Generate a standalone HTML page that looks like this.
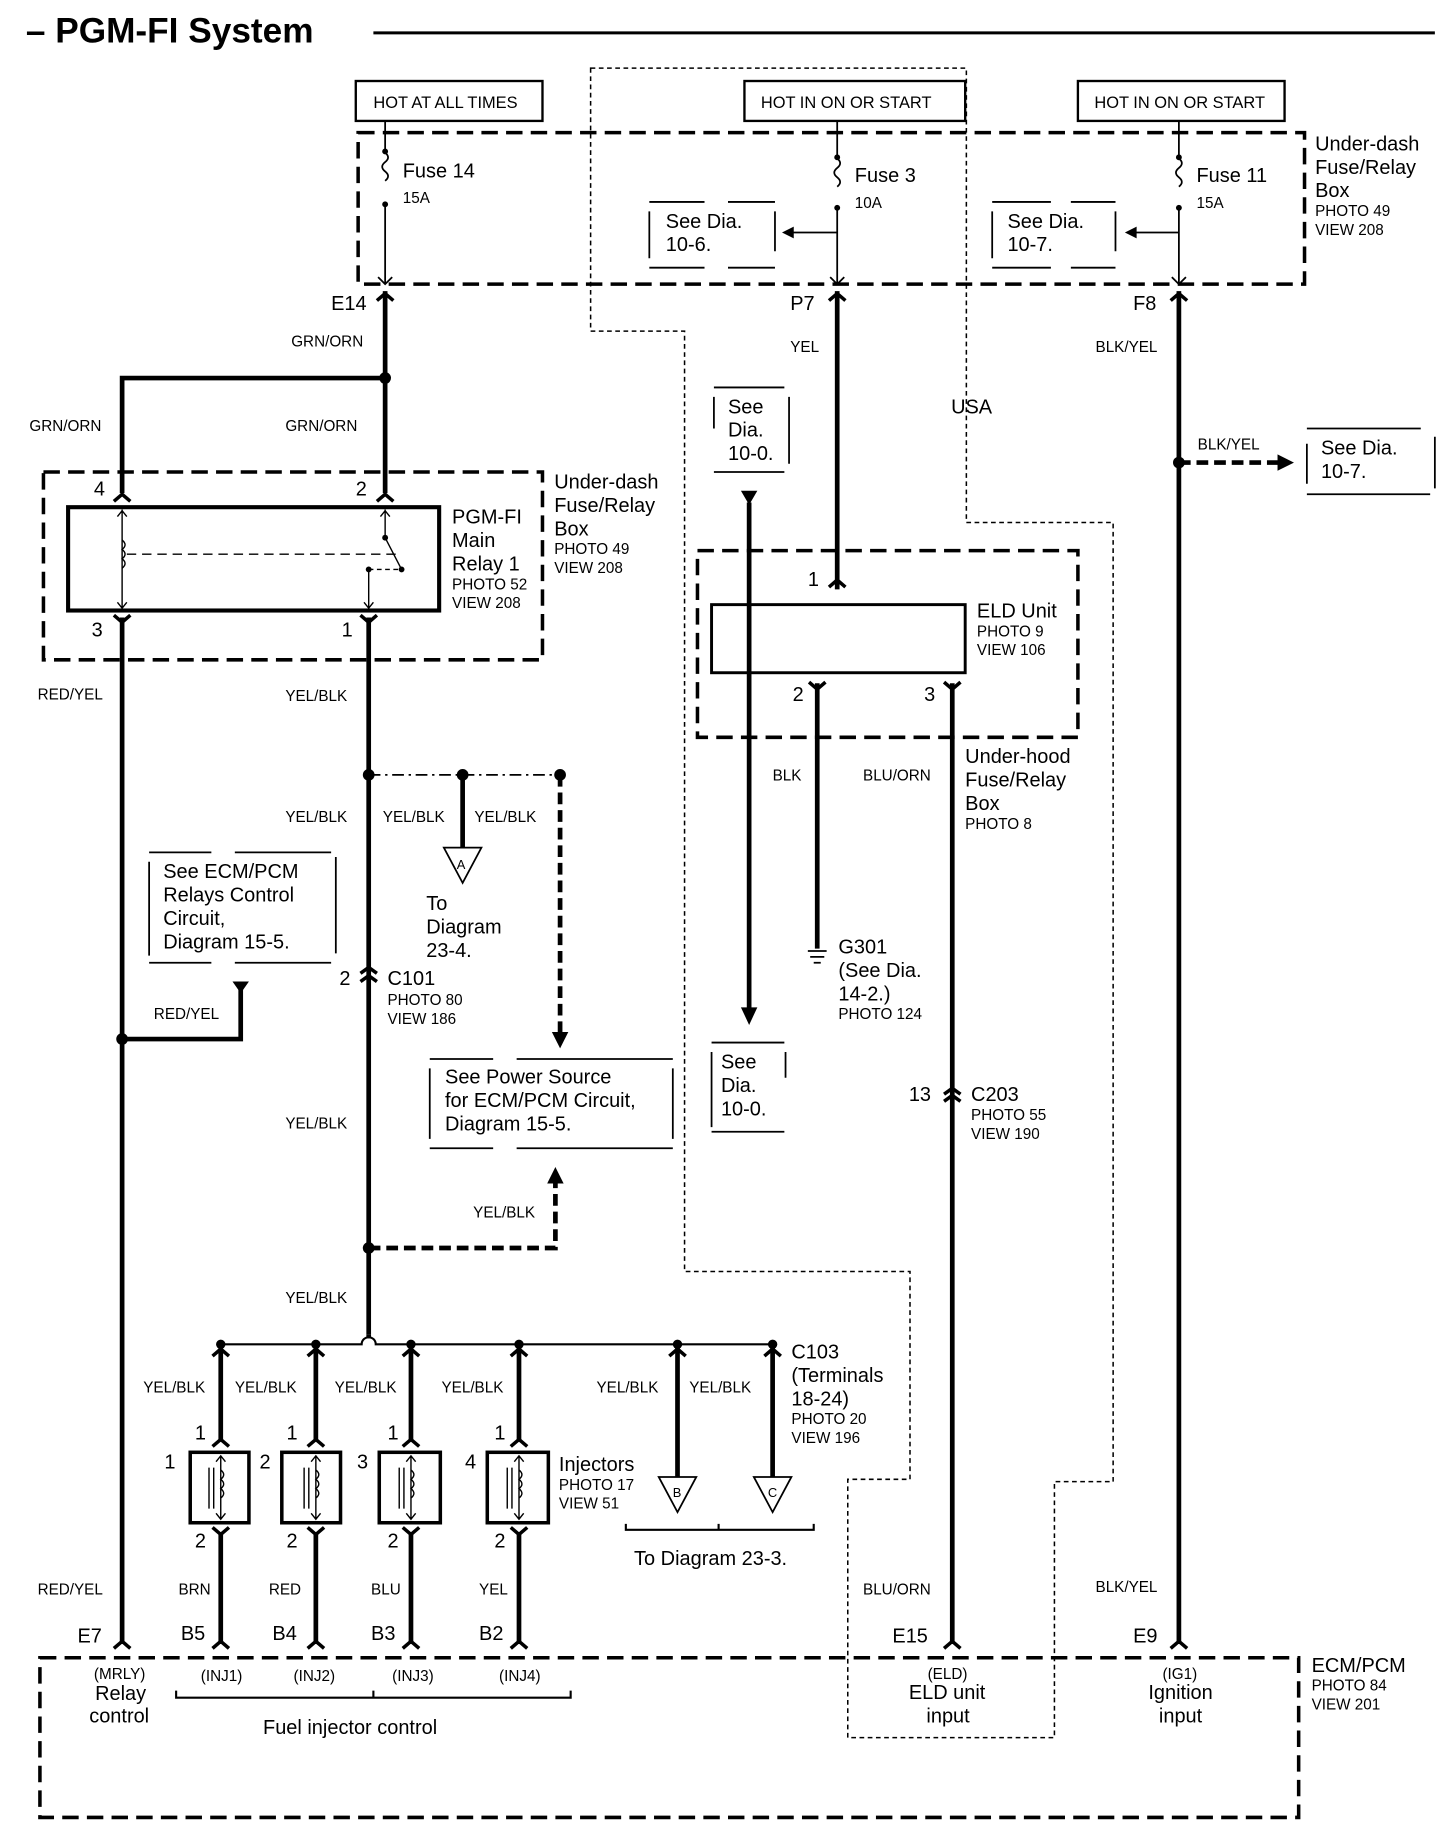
<!DOCTYPE html>
<html><head><meta charset="utf-8"><style>
html,body{margin:0;padding:0;background:#fff}
svg{display:block}
text{font-family:"Liberation Sans",Arial,sans-serif;fill:#000}
.l{font-size:17px}.s{font-size:13px}.m{font-size:14px}
</style></head><body>
<svg width="1456" height="1828" viewBox="0 0 1240 1557" preserveAspectRatio="none" xmlns="http://www.w3.org/2000/svg">
<g fill="none" stroke="#000">
<!-- title -->
<line x1="318" y1="28" x2="1222" y2="28" stroke-width="2.5"/>
<!-- hot boxes -->
<rect x="303" y="69" width="159" height="34" stroke-width="2"/>
<rect x="634" y="69" width="188" height="34" stroke-width="2"/>
<rect x="918" y="69" width="176" height="34" stroke-width="2"/>
<!-- USA dotted -->
<path d="M503 58 H823 V445 H948 V1262 H898 V1480 H722 V1260 H775 V1083 H583 V282 H503 Z" stroke-width="1.3" stroke-dasharray="4 3"/>
<!-- big dashed boxes -->
<rect x="305" y="113" width="806" height="129" stroke-width="3" stroke-dasharray="14 7"/>
<rect x="37" y="402" width="425" height="160" stroke-width="3" stroke-dasharray="14 7"/>
<rect x="594" y="469" width="324" height="159" stroke-width="3" stroke-dasharray="14 7"/>
<rect x="34" y="1412" width="1072" height="136" stroke-width="3" stroke-dasharray="14 7"/>
<!-- see dia boxes (dashed brackets) -->
<g stroke-width="1.5">
<path d="M553 172 H600 M620 172 H660 M553 228 H600 M620 228 H660 M553 180 V220 M660 180 V214"/>
<path d="M845 172 H895 M912 172 H950 M845 228 H895 M912 228 H950 M845 180 V220 M950 180 V214"/>
<path d="M608 330 H668 M608 402 H668 M608 338 V365 M672 338 V395"/>
<path d="M606 888 H668 M606 964 H668 M606 896 V960 M669 896 V918"/>
<path d="M1113 365 H1210 M1113 421 H1218 M1113 378 V412 M1222 372 V416"/>
<path d="M127 726 H180 M200 726 H282 M127 820 H180 M200 820 H282 M127 734 V814 M286 730 V812"/>
<path d="M366 902 H420 M440 902 H573 M366 978 H420 M440 978 H573 M366 910 V970 M573 910 V970"/>
</g>
<!-- fuses -->
<g stroke-width="1.5">
<path d="M328 103 V130 M328 175 V242"/>
<path d="M328 130 q5 4 0 8 q-5 4 0 8 q5 4 0 8"/>
<path d="M713 103 V135 M713 178 V242 M713 198 H672"/>
<path d="M713 135 q5 4 0 8 q-5 4 0 8 q5 4 0 8"/>
<path d="M1004 103 V135 M1004 178 V242 M1004 198 H964"/>
<path d="M1004 135 q5 4 0 8 q-5 4 0 8 q5 4 0 8"/>
</g>
<g fill="#000" stroke="none">
<circle cx="328" cy="129" r="2.5"/><circle cx="328" cy="174" r="2.5"/>
<circle cx="713" cy="134" r="2.5"/><circle cx="713" cy="177" r="2.5"/>
<circle cx="1004" cy="134" r="2.5"/><circle cx="1004" cy="177" r="2.5"/>
<path d="M666 198 l10 -5 v10z"/><path d="M958 198 l10 -5 v10z"/>
</g>
<!-- connector carets at fuse box bottom -->
<g stroke-width="1.5">
<path d="M322 236 l6 6 l6 -6 M707 236 l6 6 l6 -6 M998 236 l6 6 l6 -6"/>
</g>
<!-- thick wires -->
<g stroke-width="4">
<path d="M328 248 V420 M328 322 H104 V420"/>
<path d="M104 526 V1400"/>
<path d="M314 526 V1137"/>
<path d="M713 248 V502"/>
<path d="M1004 248 V1400"/>
<path d="M811 582 V1400"/>
<path d="M696 582 V808"/>
<path d="M638 428 V860"/>
<path d="M104 885 H205 V842"/>
<path d="M394 660 V722"/>
<path d="M188 1145 V1228 M269 1145 V1228 M350 1145 V1228 M442 1145 V1228"/>
<path d="M188 1306 V1400 M269 1306 V1400 M350 1306 V1400 M442 1306 V1400"/>
<path d="M577 1145 V1258 M658 1145 V1258"/>
</g>
<!-- Y connectors on thick wires -->
<g stroke-width="3">
<path d="M321 256 l7 -6 l7 6 M706 256 l7 -6 l7 6 M997 256 l7 -6 l7 6"/>
<path d="M97 427 l7 -6 l7 6 M321 427 l7 -6 l7 6"/>
<path d="M97 524 l7 6 l7 -6 M307 524 l7 6 l7 -6"/>
<path d="M706 500 l7 -6 l7 6"/>
<path d="M689 581 l7 6 l7 -6 M804 581 l7 6 l7 -6"/>
<path d="M307 829 l7 -5 l7 5 M307 836 l7 -5 l7 5"/>
<path d="M804 932 l7 -5 l7 5 M804 938 l7 -5 l7 5"/>
<path d="M181 1232 l7 -6 l7 6 M262 1232 l7 -6 l7 6 M343 1232 l7 -6 l7 6 M435 1232 l7 -6 l7 6"/>
<path d="M181 1301 l7 6 l7 -6 M262 1301 l7 6 l7 -6 M343 1301 l7 6 l7 -6 M435 1301 l7 6 l7 -6"/>
<path d="M181 1155 l7 -6 l7 6 M262 1155 l7 -6 l7 6 M343 1155 l7 -6 l7 6 M435 1155 l7 -6 l7 6 M570 1155 l7 -6 l7 6 M651 1155 l7 -6 l7 6"/>
<path d="M97 1404 l7 -6 l7 6 M181 1404 l7 -6 l7 6 M262 1404 l7 -6 l7 6 M343 1404 l7 -6 l7 6 M435 1404 l7 -6 l7 6 M804 1404 l7 -6 l7 6 M997 1404 l7 -6 l7 6"/>
</g>
<!-- relay internals -->
<rect x="58" y="432" width="316" height="88" stroke-width="3.5"/>
<g stroke-width="1.2">
<path d="M104 434 V518 M100 440 l4 -5 l4 5 M100 513 l4 5 l4 -5"/>
<path d="M104 460 q5 4 0 8 q5 4 0 8 q5 4 0 8"/>
<path d="M108 472 H340" stroke-dasharray="8 5"/>
<path d="M328 434 V458 M324 440 l4 -5 l4 5 M328 458 L342 485 M314 485 V518 M310 513 l4 5 l4 -5"/>
<path d="M314 485 H340" stroke-dasharray="4 3"/>
</g>
<g fill="#000" stroke="none"><circle cx="328" cy="458" r="2.5"/><circle cx="342" cy="485" r="2.5"/><circle cx="314" cy="485" r="2.5"/></g>
<!-- ELD unit -->
<rect x="606" y="515" width="216" height="58" stroke-width="2.5"/>
<!-- ground -->
<g stroke-width="1.5"><path d="M688 810 H704 M690 815 H702 M693 820 H699"/></g>
<!-- dash-dot bus at y660 -->
<path d="M314 660 H477" stroke-width="1.5" stroke-dasharray="10 4 2 4"/>
<path d="M477 660 V880" stroke-width="4" stroke-dasharray="10 5"/>
<path d="M314 1063 H473 V1005" stroke-width="4" stroke-dasharray="10 5"/>
<path d="M1004 394 H1090" stroke-width="4" stroke-dasharray="10 5"/>
<!-- triangles -->
<g stroke-width="1.5">
<path d="M378 722 H410 L394 752 Z"/>
<path d="M561 1258 H593 L577 1288 Z"/>
<path d="M642 1258 H674 L658 1288 Z"/>
</g>
<!-- injector bus -->
<path d="M188 1145 H308 a6 6 0 0 1 12 0 H658" stroke-width="1.8"/>
<path d="M314 1137 V1140" stroke-width="4"/>
<!-- injectors -->
<g stroke-width="3">
<rect x="162" y="1237" width="50" height="60"/>
<rect x="240" y="1237" width="50" height="60"/>
<rect x="323" y="1237" width="52" height="60"/>
<rect x="415" y="1237" width="52" height="60"/>
</g>
<g stroke-width="1.2">
<path d="M188 1240 V1294 M184 1245 l4 -5 l4 5 M184 1289 l4 5 l4 -5 M188 1252 q5 4 0 8 q5 4 0 8 q5 4 0 8 M178 1250 V1285 M182 1250 V1285"/>
<path d="M269 1240 V1294 M265 1245 l4 -5 l4 5 M265 1289 l4 5 l4 -5 M269 1252 q5 4 0 8 q5 4 0 8 q5 4 0 8 M259 1250 V1285 M263 1250 V1285"/>
<path d="M350 1240 V1294 M346 1245 l4 -5 l4 5 M346 1289 l4 5 l4 -5 M350 1252 q5 4 0 8 q5 4 0 8 q5 4 0 8 M340 1250 V1285 M344 1250 V1285"/>
<path d="M442 1240 V1294 M438 1245 l4 -5 l4 5 M438 1289 l4 5 l4 -5 M442 1252 q5 4 0 8 q5 4 0 8 q5 4 0 8 M432 1250 V1285 M436 1250 V1285"/>
</g>
<!-- brackets -->
<g stroke-width="1.8">
<path d="M533 1298 V1303 H693 V1298 M612 1303 V1298"/>
<path d="M150 1440 V1446 H486 V1440 M318 1446 V1440"/>
</g>
</g>
<!-- arrows & dots -->
<g fill="#000">
<circle cx="328" cy="322" r="5"/>
<circle cx="314" cy="660" r="5"/><circle cx="394" cy="660" r="5"/><circle cx="477" cy="660" r="5"/>
<circle cx="104" cy="885" r="5"/>
<circle cx="314" cy="1063" r="5"/>
<circle cx="1004" cy="394" r="5"/>
<circle cx="188" cy="1145" r="4"/><circle cx="269" cy="1145" r="4"/><circle cx="350" cy="1145" r="4"/><circle cx="442" cy="1145" r="4"/><circle cx="577" cy="1145" r="4"/><circle cx="658" cy="1145" r="4"/>
<path d="M631 418 H645 L638 430 Z"/>
<path d="M631 858 H645 L638 873 Z"/>
<path d="M198 836 H212 L205 846 Z"/>
<path d="M470 879 H484 L477 893 Z"/>
<path d="M466 1008 H480 L473 994 Z"/>
<path d="M1088 387 V401 L1102 394 Z"/>
</g>
<!-- text -->
<text x="22" y="36" style="font-size:30px;font-weight:bold">– PGM-FI System</text>
<text x="318" y="92" class="m">HOT AT ALL TIMES</text>
<text x="648" y="92" class="m">HOT IN ON OR START</text>
<text x="932" y="92" class="m">HOT IN ON OR START</text>
<text x="343" y="151" class="l">Fuse 14</text><text x="343" y="173" class="s">15A</text>
<text x="728" y="155" class="l">Fuse 3</text><text x="728" y="177" class="s">10A</text>
<text x="1019" y="155" class="l">Fuse 11</text><text x="1019" y="177" class="s">15A</text>
<text x="567" y="194" class="l">See Dia.</text><text x="567" y="214" class="l">10-6.</text>
<text x="858" y="194" class="l">See Dia.</text><text x="858" y="214" class="l">10-7.</text>
<text x="1120" y="128" class="l">Under-dash</text><text x="1120" y="148" class="l">Fuse/Relay</text><text x="1120" y="168" class="l">Box</text>
<text x="1120" y="184" class="s">PHOTO 49</text><text x="1120" y="200" class="s">VIEW 208</text>
<text x="282" y="264" class="l">E14</text><text x="673" y="264" class="l">P7</text><text x="965" y="264" class="l">F8</text>
<text x="248" y="295" class="s">GRN/ORN</text>
<text x="673" y="300" class="s">YEL</text>
<text x="933" y="300" class="s">BLK/YEL</text>
<text x="25" y="367" class="s">GRN/ORN</text><text x="243" y="367" class="s">GRN/ORN</text>
<text x="810" y="352" class="l">USA</text>
<text x="620" y="352" class="l">See</text><text x="620" y="372" class="l">Dia.</text><text x="620" y="392" class="l">10-0.</text>
<text x="1020" y="383" class="s">BLK/YEL</text>
<text x="1125" y="387" class="l">See Dia.</text><text x="1125" y="407" class="l">10-7.</text>
<text x="80" y="422" class="l">4</text><text x="303" y="422" class="l">2</text>
<text x="472" y="416" class="l">Under-dash</text><text x="472" y="436" class="l">Fuse/Relay</text><text x="472" y="456" class="l">Box</text>
<text x="472" y="472" class="s">PHOTO 49</text><text x="472" y="488" class="s">VIEW 208</text>
<text x="385" y="446" class="l">PGM-FI</text><text x="385" y="466" class="l">Main</text><text x="385" y="486" class="l">Relay 1</text>
<text x="385" y="502" class="s">PHOTO 52</text><text x="385" y="518" class="s">VIEW 208</text>
<text x="78" y="542" class="l">3</text><text x="291" y="542" class="l">1</text>
<text x="688" y="499" class="l">1</text>
<text x="832" y="526" class="l">ELD Unit</text><text x="832" y="542" class="s">PHOTO 9</text><text x="832" y="558" class="s">VIEW 106</text>
<text x="675" y="597" class="l">2</text><text x="787" y="597" class="l">3</text>
<text x="32" y="596" class="s">RED/YEL</text><text x="243" y="597" class="s">YEL/BLK</text>
<text x="822" y="650" class="l">Under-hood</text><text x="822" y="670" class="l">Fuse/Relay</text><text x="822" y="690" class="l">Box</text><text x="822" y="706" class="s">PHOTO 8</text>
<text x="658" y="665" class="s">BLK</text><text x="735" y="665" class="s">BLU/ORN</text>
<text x="243" y="700" class="s">YEL/BLK</text><text x="326" y="700" class="s">YEL/BLK</text><text x="404" y="700" class="s">YEL/BLK</text>
<text x="389" y="740" style="font-size:11px">A</text>
<text x="139" y="748" class="l">See ECM/PCM</text><text x="139" y="768" class="l">Relays Control</text><text x="139" y="788" class="l">Circuit,</text><text x="139" y="808" class="l">Diagram 15-5.</text>
<text x="363" y="775" class="l">To</text><text x="363" y="795" class="l">Diagram</text><text x="363" y="815" class="l">23-4.</text>
<text x="714" y="812" class="l">G301</text><text x="714" y="832" class="l">(See Dia.</text><text x="714" y="852" class="l">14-2.)</text><text x="714" y="868" class="s">PHOTO 124</text>
<text x="289" y="839" class="l">2</text><text x="330" y="839" class="l">C101</text><text x="330" y="856" class="s">PHOTO 80</text><text x="330" y="872" class="s">VIEW 186</text>
<text x="131" y="868" class="s">RED/YEL</text>
<text x="614" y="910" class="l">See</text><text x="614" y="930" class="l">Dia.</text><text x="614" y="950" class="l">10-0.</text>
<text x="379" y="923" class="l">See Power Source</text><text x="379" y="943" class="l">for ECM/PCM Circuit,</text><text x="379" y="963" class="l">Diagram 15-5.</text>
<text x="774" y="938" class="l">13</text><text x="827" y="938" class="l">C203</text><text x="827" y="954" class="s">PHOTO 55</text><text x="827" y="970" class="s">VIEW 190</text>
<text x="243" y="961" class="s">YEL/BLK</text>
<text x="403" y="1037" class="s">YEL/BLK</text>
<text x="243" y="1110" class="s">YEL/BLK</text>
<text x="674" y="1157" class="l">C103</text><text x="674" y="1177" class="l">(Terminals</text><text x="674" y="1197" class="l">18-24)</text><text x="674" y="1213" class="s">PHOTO 20</text><text x="674" y="1229" class="s">VIEW 196</text>
<text x="122" y="1186" class="s">YEL/BLK</text><text x="200" y="1186" class="s">YEL/BLK</text><text x="285" y="1186" class="s">YEL/BLK</text><text x="376" y="1186" class="s">YEL/BLK</text><text x="508" y="1186" class="s">YEL/BLK</text><text x="587" y="1186" class="s">YEL/BLK</text>
<text x="166" y="1226" class="l">1</text><text x="244" y="1226" class="l">1</text><text x="330" y="1226" class="l">1</text><text x="421" y="1226" class="l">1</text>
<text x="140" y="1251" class="l">1</text><text x="221" y="1251" class="l">2</text><text x="304" y="1251" class="l">3</text><text x="396" y="1251" class="l">4</text>
<text x="476" y="1253" class="l">Injectors</text><text x="476" y="1269" class="s">PHOTO 17</text><text x="476" y="1285" class="s">VIEW 51</text>
<text x="573" y="1275" style="font-size:11px">B</text><text x="654" y="1275" style="font-size:11px">C</text>
<text x="166" y="1318" class="l">2</text><text x="244" y="1318" class="l">2</text><text x="330" y="1318" class="l">2</text><text x="421" y="1318" class="l">2</text>
<text x="540" y="1333" class="l">To Diagram 23-3.</text>
<text x="32" y="1358" class="s">RED/YEL</text><text x="152" y="1358" class="s">BRN</text><text x="229" y="1358" class="s">RED</text><text x="316" y="1358" class="s">BLU</text><text x="408" y="1358" class="s">YEL</text>
<text x="735" y="1358" class="s">BLU/ORN</text><text x="933" y="1356" class="s">BLK/YEL</text>
<text x="66" y="1399" class="l">E7</text><text x="154" y="1397" class="l">B5</text><text x="232" y="1397" class="l">B4</text><text x="316" y="1397" class="l">B3</text><text x="408" y="1397" class="l">B2</text>
<text x="760" y="1399" class="l">E15</text><text x="965" y="1399" class="l">E9</text>
<text x="1117" y="1424" class="l">ECM/PCM</text><text x="1117" y="1440" class="s">PHOTO 84</text><text x="1117" y="1456" class="s">VIEW 201</text>
<text x="80" y="1430" class="s">(MRLY)</text><text x="171" y="1432" class="s">(INJ1)</text><text x="250" y="1432" class="s">(INJ2)</text><text x="334" y="1432" class="s">(INJ3)</text><text x="425" y="1432" class="s">(INJ4)</text>
<text x="790" y="1430" class="s">(ELD)</text><text x="990" y="1430" class="s">(IG1)</text>
<text x="81" y="1448" class="l">Relay</text><text x="76" y="1467" class="l">control</text>
<text x="224" y="1477" class="l">Fuel injector control</text>
<text x="774" y="1447" class="l">ELD unit</text><text x="789" y="1467" class="l">input</text>
<text x="978" y="1447" class="l">Ignition</text><text x="987" y="1467" class="l">input</text>
</svg>
</body></html>
